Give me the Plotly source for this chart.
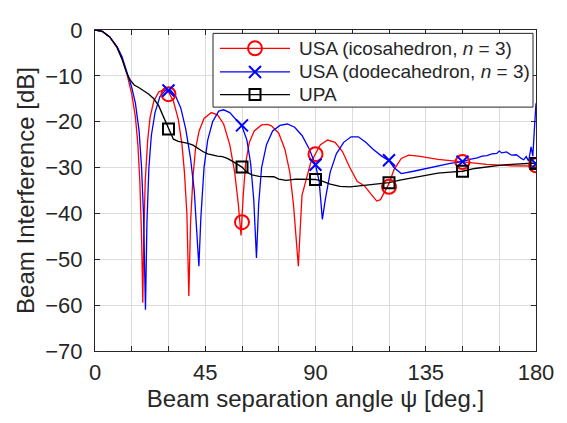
import plotly.graph_objects as go

# Red: USA (icosahedron, n = 3)
ico_x = [0, 3, 6, 9, 11, 13, 15, 16.5, 17.5, 18.3, 19, 19.5, 19.9, 20.5, 21.5, 22.5, 24, 26, 28, 30, 32, 34, 35.5, 36.5, 37.5, 38.3, 39, 40, 41, 42.5, 44.5, 47.5, 50, 52.5, 55, 57, 58.5, 59.6, 60.5, 61.5, 63, 65, 68, 70.5, 72, 75, 77.5, 79.5, 81, 82.3, 83, 83.7, 84.5, 86, 88, 90, 92, 95, 98, 101, 104, 107, 110, 113, 115, 116.5, 118, 120, 122, 125, 128, 132, 140, 150, 160, 170, 180]
ico_y = [0, -0.3, -1.5, -3.8, -6.2, -9.5, -14, -19, -25, -33, -45, -59.5, -45, -33, -24, -19, -15.5, -13.5, -13, -13.5, -15.5, -19.5, -25, -31, -40, -58, -42, -32, -26, -22, -19.3, -18, -18.5, -20.5, -25, -31, -38, -44.8, -36, -29, -24.5, -22, -20.7, -20.6, -20.9, -22.5, -26, -31, -38, -46, -51.5, -44, -36, -33, -29, -27, -25, -24, -24.5, -26.5, -30, -33, -34, -36, -37.3, -37, -35.5, -33.5, -30.5, -28, -27.3, -27.5, -28.2, -28.8, -29.3, -29.6, -29.7]
ico_mx = [30, 60, 90, 120, 150, 180]
ico_my = [-14, -41.9, -27.1, -34.2, -28.8, -29.5]

# Blue: USA (dodecahedron, n = 3)
dod_x = [0, 3, 6, 9, 11, 13, 15, 16.5, 18, 19, 19.8, 20.6, 21.2, 22, 23, 24.5, 26.5, 29, 31, 33, 35, 37, 39, 40.5, 41.5, 42.4, 43.2, 44.5, 46, 48, 50.5, 52.5, 55, 57.5, 60, 62, 63.5, 64.8, 65.9, 66.8, 68, 70, 72.5, 75.5, 78.5, 81.5, 84.5, 87.5, 90, 91.5, 92.8, 94, 96, 98.5, 101.5, 104.5, 107.5, 110.5, 113.5, 117, 120, 122, 125, 130, 135, 140, 145, 150, 153, 156, 158, 160, 162, 164, 165, 166, 168, 170, 172, 174, 175, 176, 177, 178, 178.7, 179.3, 180]
dod_y = [0, -0.3, -1.5, -3.6, -5.8, -9, -12.5, -16, -22, -30, -40, -61, -42, -30, -23, -18, -14.5, -13, -13.2, -14.5, -17, -21.5, -28, -35, -43, -51.5, -41, -30, -24, -20, -17.7, -17.4, -18, -19.5, -21, -24, -29, -37, -49.7, -38, -30, -25, -22, -20.8, -20.5, -21.2, -23, -26, -29.4, -33, -41.3, -37, -31, -27, -24.5, -23.3, -23.3, -24.5, -26, -27.5, -28.5, -30, -31.3, -30.8, -30.2, -29.6, -29.1, -28.7, -28.2, -27.9, -27.5, -27.4, -27.0, -26.9, -26.4, -26.8, -26.6, -27.3, -27.2, -28.0, -28.3, -27.6, -28.6, -25.5, -27.5, -22, -16]
dod_mx = [30, 60, 90, 120, 150, 180]
dod_my = [-13.2, -20.8, -29.4, -28.4, -28.7, -29.2]

# Black: UPA
upa_x = [0, 3, 6, 9, 11, 13, 14.5, 16, 18, 20, 22, 24, 26, 28, 30, 32, 34, 36, 38, 40, 42, 44, 46, 48, 50, 52, 54, 56, 58, 60, 62, 64, 67, 70, 73, 75, 78, 82, 86, 90, 93, 96, 100, 104, 108, 112, 116, 120, 125, 130, 135, 140, 145, 150, 155, 160, 165, 170, 175, 180]
upa_y = [0, -0.3, -1.5, -3.8, -6.3, -9.5, -11, -12, -12.6, -13.3, -14, -15, -16.5, -19, -21.6, -23.8, -24.3, -24.5, -24.7, -25.1, -25.8, -26.5, -27, -27.3, -27.5, -27.6, -28, -28.6, -29.3, -29.9, -31, -31.6, -31.9, -31.9, -32, -32.5, -32.8, -32.5, -32.5, -32.6, -33, -33.6, -34.1, -34.2, -34, -33.8, -33.5, -33.3, -32.7, -32.2, -31.7, -31.2, -31, -30.8, -30.2, -29.8, -29.5, -29.3, -29.1, -29.0]
upa_mx = [30, 60, 90, 120, 150, 180]
upa_my = [-21.6, -29.9, -32.6, -33.3, -30.8, -29.1]

x_ticks = [0, 45, 90, 135, 180]
y_ticks = [0, -10, -20, -30, -40, -50, -60, -70]

names = ["USA (icosahedron, <i>n</i> = 3)", "USA (dodecahedron, <i>n</i> = 3)", "UPA"]
colors = ["#ff0000", "#0000ff", "#000000"]
symbols = ["circle-open", "x-thin-open", "square-open"]
msizes = [14, 12, 11]
TXT = "#262626"

fig = go.Figure()
series = [(ico_x, ico_y, ico_mx, ico_my), (dod_x, dod_y, dod_mx, dod_my), (upa_x, upa_y, upa_mx, upa_my)]
for (lx, ly, mx, my), nm, c in zip(series, names, colors):
    fig.add_trace(go.Scatter(x=lx, y=ly, mode="lines", name=nm, line=dict(color=c, width=1.3), showlegend=False))
for (lx, ly, mx, my), nm, c, s, ms in zip(series, names, colors, symbols, msizes):
    fig.add_trace(go.Scatter(x=mx, y=my, mode="markers", name=nm, showlegend=False,
                             marker=dict(symbol=s, size=ms, color=c, line=dict(color=c, width=2))))

axis_common = dict(showline=True, linecolor=TXT, linewidth=1, mirror="ticks",
                   ticks="inside", ticklen=5, tickcolor=TXT, gridcolor="#dcdcdc", gridwidth=1,
                   zeroline=False, tickfont=dict(size=22, color=TXT), ticklabeloverflow="allow")
fig.update_xaxes(range=[0, 180], tickvals=x_ticks, ticklabelstandoff=2,
                 minor=dict(dtick=15, tick0=0, ticks="inside", ticklen=5, tickcolor=TXT, showgrid=True, gridcolor="#dcdcdc"),
                 title=dict(text="Beam separation angle ψ [deg.]", font=dict(size=24, color=TXT), standoff=4),
                 **axis_common)
fig.update_yaxes(range=[-70, 0], tickvals=y_ticks, ticklabelstandoff=7,
                 title=dict(text="Beam Interference [dB]", font=dict(size=24, color=TXT), standoff=3),
                 **axis_common)

# Manual legend (box, line samples, marker samples, labels) in paper coordinates
L, R, T, B = 87, 39, 10, 80
W, H = 567, 423
pw, ph = W - L - R, H - T - B
def px(x):
    return (x - 95) / pw
def py(y):
    return (T + 8 + ph - y) / ph

shapes = [dict(type="rect", xref="paper", yref="paper", x0=px(213), x1=px(533), y0=py(98), y1=py(21.5),
               line=dict(color=TXT, width=1), fillcolor="white", layer="above")]
annotations = []
rows = [37, 61.5, 85]
for i, (nm, c, s, ms) in enumerate(zip(names, colors, symbols, msizes)):
    yc = py(rows[i])
    xc = px(255)
    shapes.append(dict(type="line", xref="paper", yref="paper", x0=px(220), x1=px(290), y0=yc, y1=yc,
                       line=dict(color=c, width=1.3), layer="above"))
    r = ms / 2
    if s.startswith("circle"):
        shapes.append(dict(type="circle", xref="paper", yref="paper", xsizemode="pixel", ysizemode="pixel",
                           xanchor=xc, yanchor=yc, x0=-r, x1=r, y0=-r, y1=r,
                           line=dict(color=c, width=2), fillcolor="rgba(0,0,0,0)", layer="above"))
    elif s.startswith("square"):
        shapes.append(dict(type="rect", xref="paper", yref="paper", xsizemode="pixel", ysizemode="pixel",
                           xanchor=xc, yanchor=yc, x0=-r, x1=r, y0=-r, y1=r,
                           line=dict(color=c, width=2), fillcolor="rgba(0,0,0,0)", layer="above"))
    else:
        shapes.append(dict(type="path", xref="paper", yref="paper", xsizemode="pixel", ysizemode="pixel",
                           xanchor=xc, yanchor=yc,
                           path=f"M{-r},{-r} L{r},{r} M{-r},{r} L{r},{-r}",
                           line=dict(color=c, width=2), layer="above"))
    annotations.append(dict(xref="paper", yref="paper", x=px(297), y=yc, xanchor="left", yanchor="middle",
                            text=nm, showarrow=False, font=dict(size=19, color=TXT)))

fig.update_layout(
    width=W, height=H,
    margin=dict(l=L, r=R, t=T, b=B),
    paper_bgcolor="white", plot_bgcolor="white",
    font=dict(family="Liberation Sans, Arial, sans-serif", color=TXT),
    showlegend=False,
    shapes=shapes, annotations=annotations,
)
fig.write_html("out.html")
